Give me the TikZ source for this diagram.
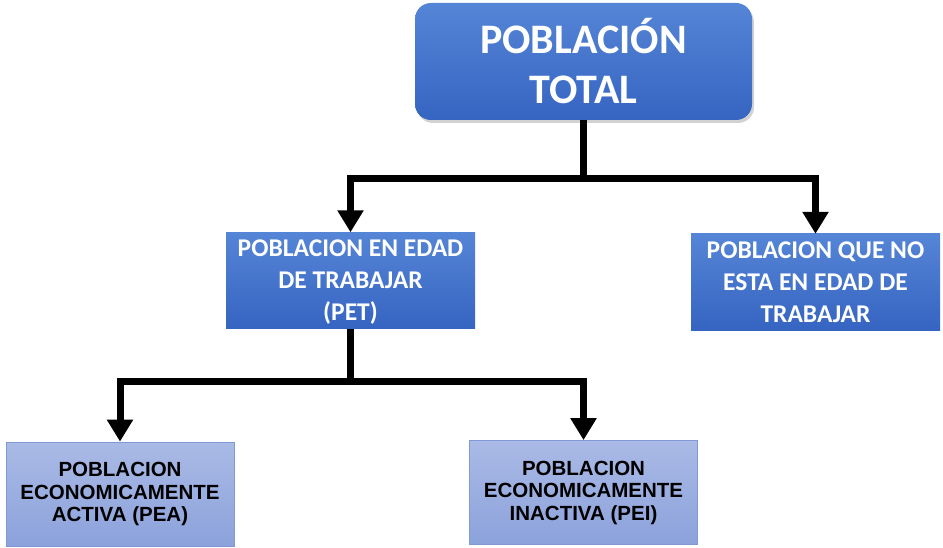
\documentclass[tikz,border=0pt]{standalone}
\usepackage{fontspec}
\newfontfamily\calib{Carlito}
\newfontfamily\arialf{Liberation Sans}
\usepackage{tikz}
\usetikzlibrary{arrows.meta,calc,shadows,positioning}

\definecolor{boxtop}{HTML}{5585D6}
\definecolor{boxbot}{HTML}{3664C2}
\definecolor{lighttop}{HTML}{AABAE6}
\definecolor{lightbot}{HTML}{8CA2DB}
\definecolor{lightline}{HTML}{8098D4}

\tikzset{
  topbox/.style={rounded corners=16pt,top color=boxtop,bottom color=boxbot,
    text=white,align=center,minimum width=337pt,minimum height=117pt,inner sep=0pt,
    drop shadow={shadow xshift=2pt,shadow yshift=-3pt,opacity=0.35},
    font=\calib\bfseries\fontsize{42}{50}\selectfont},
  midbox/.style={top color=boxtop,bottom color=boxbot,text=white,align=center,
    minimum width=249pt,minimum height=96pt,inner sep=0pt,text depth=0pt,
    font=\calib\bfseries\fontsize{25.5}{32}\selectfont},
  lowbox/.style={draw=lightline,line width=0.8pt,top color=lighttop,bottom color=lightbot,
    text=black,align=center,minimum width=228pt,minimum height=104pt,inner sep=0pt,
    font=\arialf\bfseries\fontsize{20.5}{22.5}\selectfont},
  conn/.style={line width=7pt,draw=black},
  arr/.style={conn,-{Triangle[length=22pt,width=25pt]}}
}

\begin{document}
\begin{tikzpicture}[x=1pt,y=-1pt]
\useasboundingbox[fill=white] (0,0) rectangle (943,548);

\node[topbox] (total) at (583.5,61.5) {POBLACIÓN\\TOTAL};
\node[midbox] (pet) at (350.5,280.5) {POBLACION EN EDAD\\DE TRABAJAR\\(PET)};
\node[midbox] (noedad) at (815.5,282) {POBLACION QUE NO\\ESTA EN EDAD DE\\TRABAJAR};
\node[lowbox] (pea) at (120,494) {POBLACION\\ECONOMICAMENTE\\ACTIVA (PEA)};
\node[lowbox] (pei) at (583.5,492.5) {POBLACION\\ECONOMICAMENTE\\INACTIVA (PEI)};

% branch points
\coordinate (j1) at ($(total.south)+(0,58)$);
\coordinate (j2) at ($(pet.south)+(0,53)$);

\draw[conn] (total.south) -- (j1);
\draw[conn] (pet.south) -- (j2);

% Connect boxes with arrows
\foreach \source/ \dest in {j1/pet, j1/noedad, j2/pea, j2/pei}
\draw[arr] (\source) -| (\dest.north);

\end{tikzpicture}
\end{document}
